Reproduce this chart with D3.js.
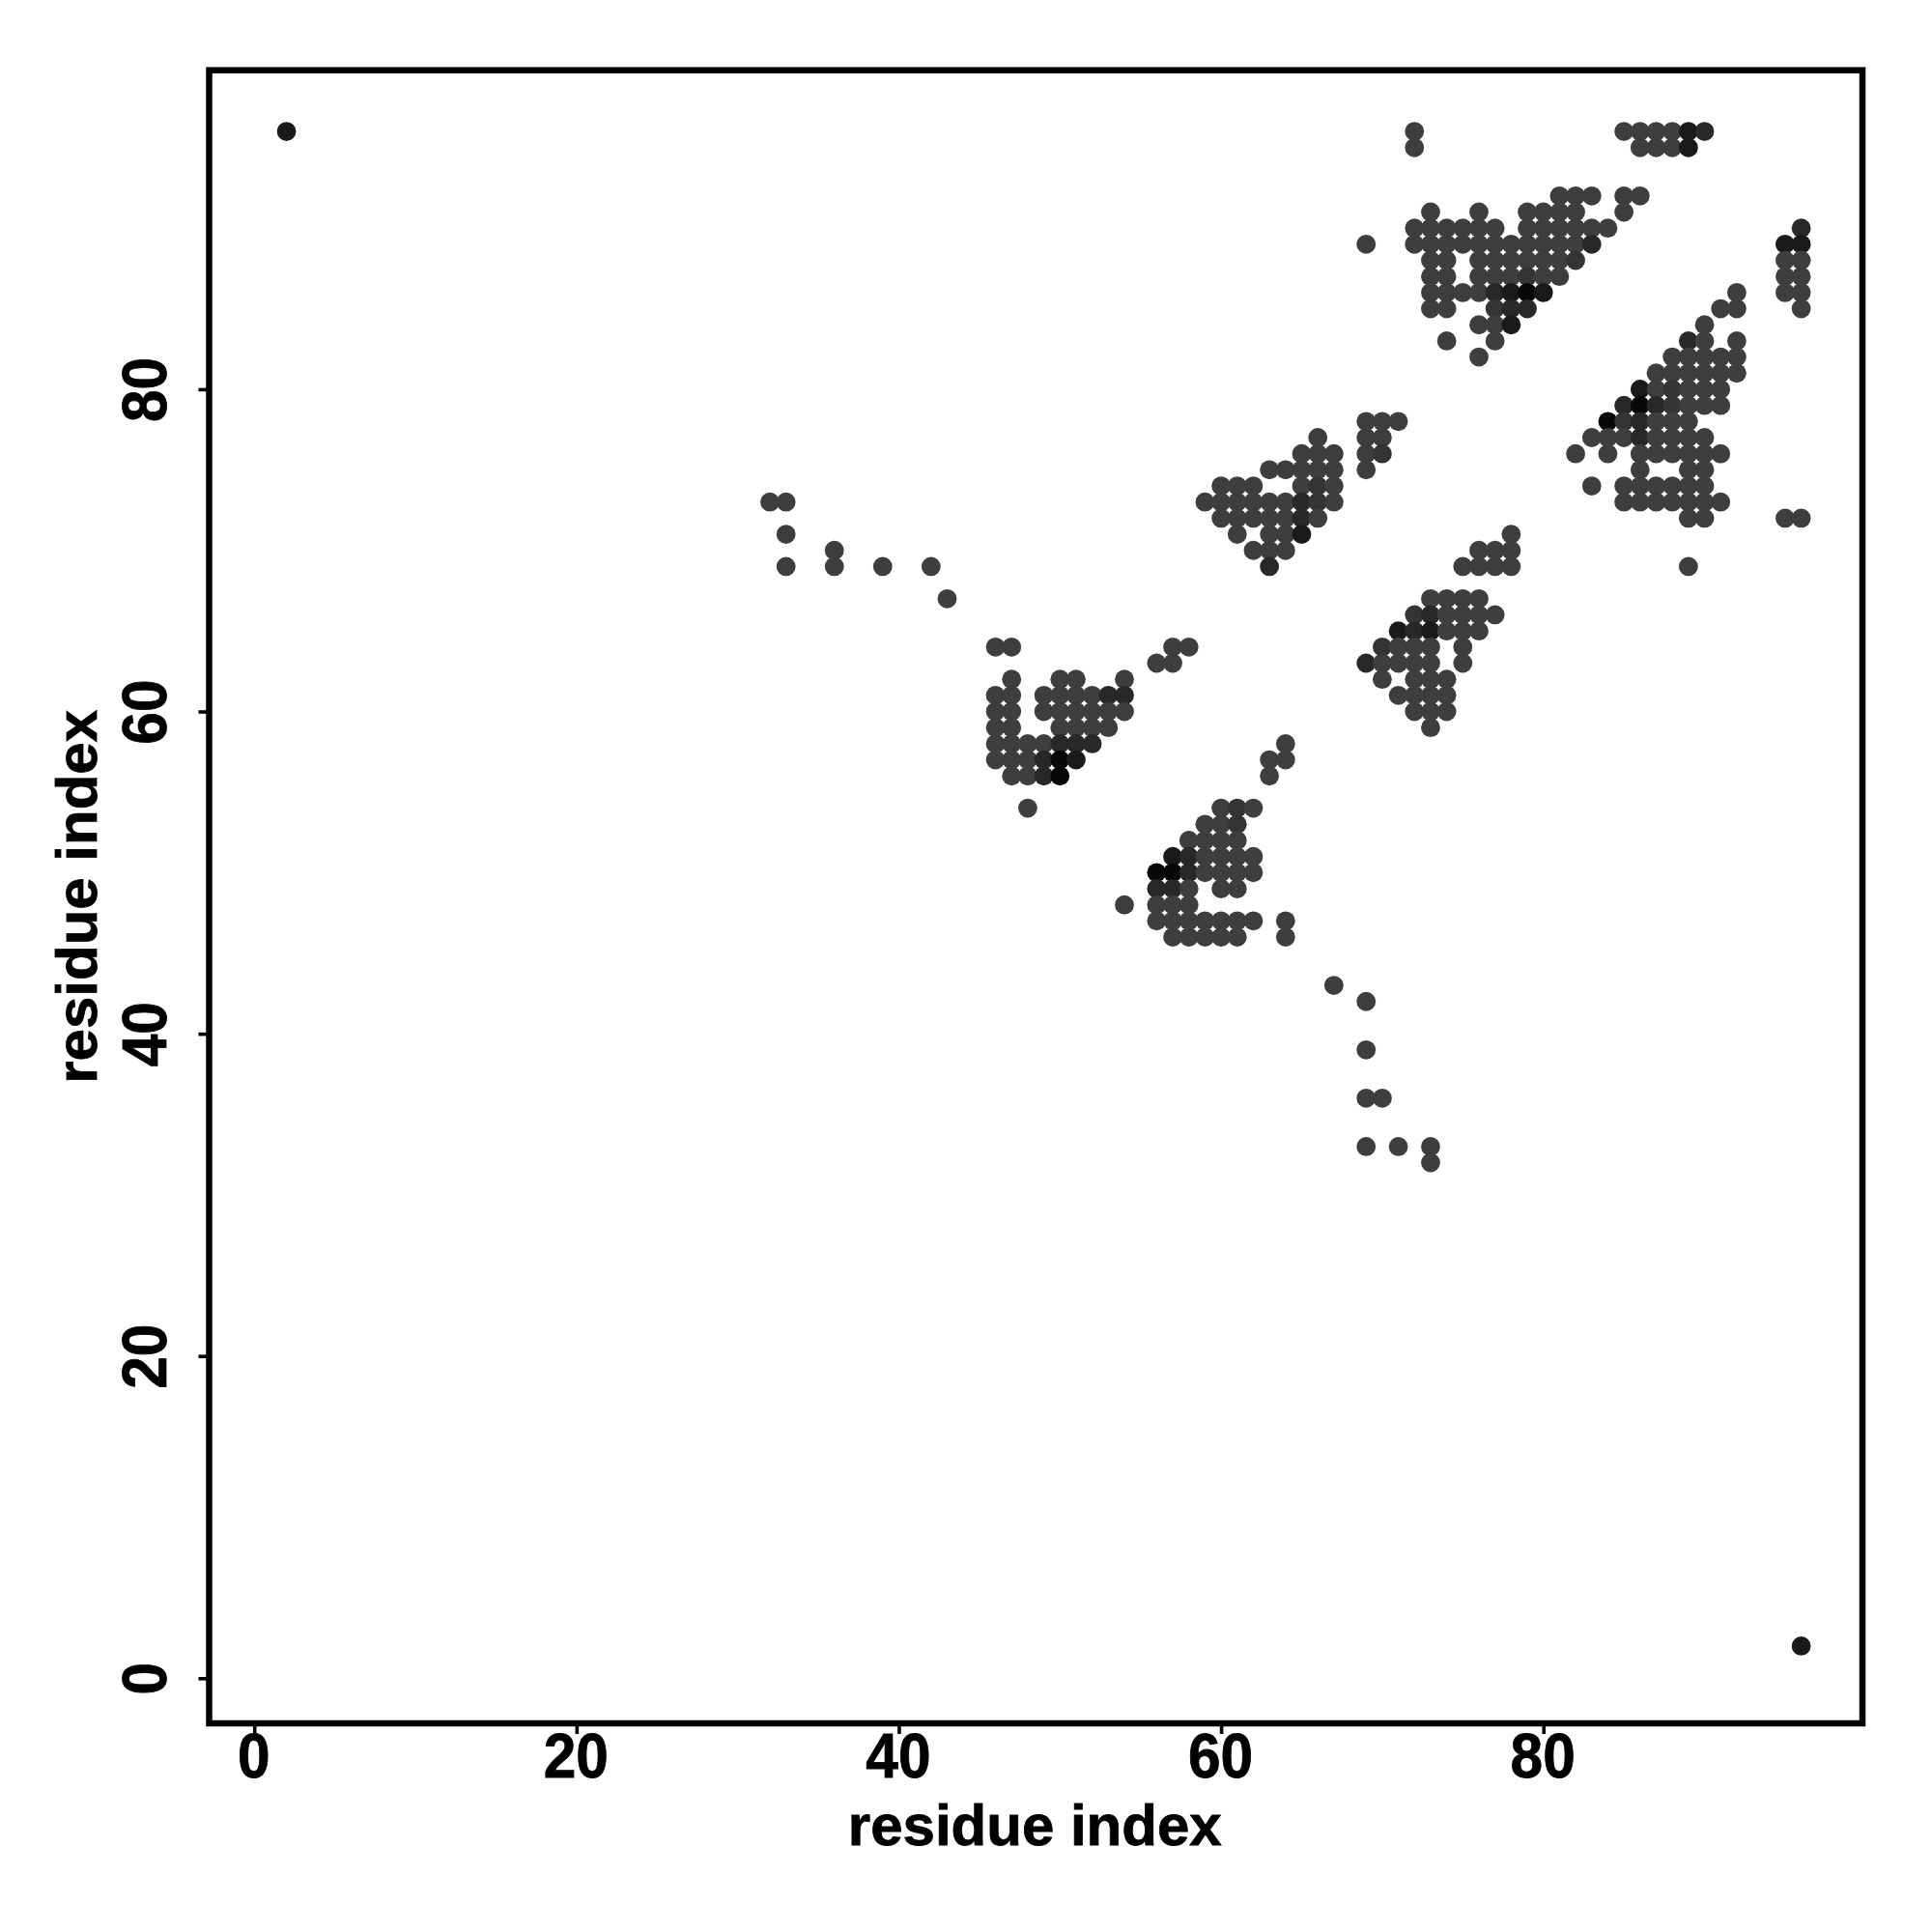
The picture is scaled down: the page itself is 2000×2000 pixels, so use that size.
<!DOCTYPE html>
<html><head><meta charset="utf-8">
<script src="https://d3js.org/d3.v7.min.js"></script>
<style>html,body{margin:0;padding:0;background:#fff}svg{display:block}</style>
</head><body><svg id="c" width="2000" height="2000"></svg>
<script>
const tickValues = [0,20,40,60,80];
const axisTitle = "residue index";
// rows of the contact map: residue on y, then residues on x
const rowY = [96,95,92,91,90,89,88,87,86,85,84,83,82,81,80,79,78,77,76,75,74,73,72,71,70,69,67,66,65,64,63,62,61,60,59,58,57,56,54,53,52,51,50,49,48,47,46,43,42,39,36,33,32,2];
const rowX = [
 [2,72,85,86,87,88,89,90],
 [72,86,87,88,89],
 [81,82,83,85,86],
 [73,76,79,80,81,82,85],
 [72,73,74,75,76,77,79,80,81,82,83,84,96],
 [69,72,73,74,75,76,77,78,79,80,81,82,83,95,96],
 [73,74,76,77,78,79,80,81,82,95,96],
 [73,74,76,77,78,79,80,81,95,96],
 [73,74,75,76,77,78,79,80,92,95,96],
 [73,74,77,78,79,91,92,96],
 [76,77,78,90],
 [74,77,89,90,92],
 [76,88,89,90,91,92],
 [87,88,89,90,91,92],
 [86,87,88,89,90,91],
 [85,86,87,88,89,90,91],
 [69,70,71,84,85,86,87,88,89],
 [66,69,70,83,84,85,86,87,88,89,90],
 [65,66,67,69,70,82,84,86,87,88,89,90,91],
 [63,64,65,66,67,69,86,89,90],
 [60,61,62,65,66,67,83,85,86,87,88,89,90],
 [32,33,59,60,61,62,63,64,65,66,67,85,86,87,88,89,90,91],
 [60,61,62,63,64,65,66,89,90,95,96],
 [33,61,63,64,65,78],
 [36,62,63,64,76,77,78],
 [33,36,39,42,63,75,76,77,78,89],
 [43,73,74,75,76],
 [72,73,74,75,76,77],
 [71,72,73,74,75,76],
 [46,47,57,58,70,71,72,73,75],
 [56,57,69,70,71,72,73,75],
 [47,50,51,54,70,72,73,74],
 [46,47,49,50,51,52,53,54,71,72,73,74],
 [46,47,49,50,51,52,53,54,72,73,74],
 [46,47,50,51,52,53,73],
 [46,47,48,49,50,51,52,64],
 [46,47,48,49,50,51,63,64],
 [47,48,49,50,63],
 [48,60,61,62],
 [59,60,61],
 [58,59,60,61],
 [57,58,59,60,61,62],
 [56,57,58,59,60,61,62],
 [56,57,58,60,61],
 [54,56,57,58],
 [56,57,58,59,60,61,62,64],
 [57,58,59,60,61,64],
 [67],
 [69],
 [69],
 [69,70],
 [69,71,73],
 [73],
 [96]
];
// pairs that look darker, and how many samples appear to stack there
const stackX = [2,96,89,90,89,96,95,96,83,82,78,79,78,77,77,78,79,80,79,84,85,86,87,86,89,86,85,86,63,65,65,65,66,66,70,69,71,72,73,72,73,70,50,50,51,49,49,52,51,50,53,54,56,57,57,58,58,61,56,57,61,88,88];
const stackY = [96,2,96,96,95,90,89,89,89,88,84,85,85,85,86,86,86,86,87,78,79,79,79,80,83,78,78,77,69,71,72,73,73,74,76,63,65,65,65,66,66,64,56,57,57,56,57,58,58,58,61,61,50,50,51,51,50,54,49,49,53,79,80];
const stackN = [3,3,3,2,3,2,3,3,2,1,3,2,2,1,2,3,4,3,1,4,2,4,2,3,2,2,1,2,2,3,2,2,1,1,1,2,3,2,3,1,2,1,4,4,3,2,2,2,2,2,2,2,4,4,3,2,2,1,2,2,1,1,1];

const svg = d3.select("#c");
const L=216.5,R=1928,T=72.7,B=1784;
const x = d3.scaleLinear().domain([-2.8,99.8]).range([L,R]);
const y = d3.scaleLinear().domain([-2.8,99.8]).range([B,T]);
const shade = d3.scaleLinear().domain([0,1,2,3,4]).range(["#3e3e3e","#343434","#282828","#1a1a1a","#080808"]);
const stack = new Map(stackX.map((v,i)=>[v+","+stackY[i],stackN[i]]));
const pts = rowY.flatMap((v,i)=>rowX[i].map(u=>({x:u,y:v,n:stack.get(u+","+v)||0})));

svg.append("g").selectAll("circle").data(pts).join("circle")
  .attr("cx",d=>x(d.x)).attr("cy",d=>y(d.y)).attr("r",9.9)
  .attr("fill",d=>shade(d.n));

svg.append("rect").attr("x",L).attr("y",T).attr("width",R-L).attr("height",B-T)
  .attr("fill","none").attr("stroke","#000").attr("stroke-width",6.5);

const font = '"Liberation Sans"';
const gx = svg.append("g").attr("transform",`translate(0,${B})`)
  .call(d3.axisBottom(x).tickValues(tickValues).tickSize(11).tickSizeOuter(0).tickPadding(0));
const gy = svg.append("g").attr("transform",`translate(${L},0)`)
  .call(d3.axisLeft(y).tickValues(tickValues).tickSize(11).tickSizeOuter(0).tickPadding(0));
[gx,gy].forEach(g=>{
  g.select(".domain").remove();
  g.selectAll("line").attr("stroke","#000").attr("stroke-width",3.6);
});
gx.selectAll("text").attr("y",0).attr("dy",0).attr("text-anchor","middle")
  .attr("transform","translate(-1,56) scale(0.93,1)")
  .attr("font-family",font).attr("font-weight","bold").attr("font-size",65).attr("fill","#000")
  .attr("stroke","#000").attr("stroke-width",0.8);
gy.selectAll("text").attr("x",0).attr("dy",0).attr("text-anchor","middle")
  .attr("transform",`translate(${172-L},0) rotate(-90) scale(0.93,1)`)
  .attr("font-family",font).attr("font-weight","bold").attr("font-size",65).attr("fill","#000")
  .attr("stroke","#000").attr("stroke-width",0.8);

svg.append("text").attr("x",(L+R)/2-1).attr("y",1910).attr("text-anchor","middle")
  .attr("font-family",font).attr("font-weight","bold").attr("font-size",60).attr("fill","#000")
  .attr("stroke","#000").attr("stroke-width",0.8).text(axisTitle);
svg.append("text").attr("transform",`translate(100,${(T+B)/2}) rotate(-90)`).attr("text-anchor","middle")
  .attr("font-family",font).attr("font-weight","bold").attr("font-size",60).attr("fill","#000")
  .attr("stroke","#000").attr("stroke-width",0.8).text(axisTitle);
</script></body></html>
